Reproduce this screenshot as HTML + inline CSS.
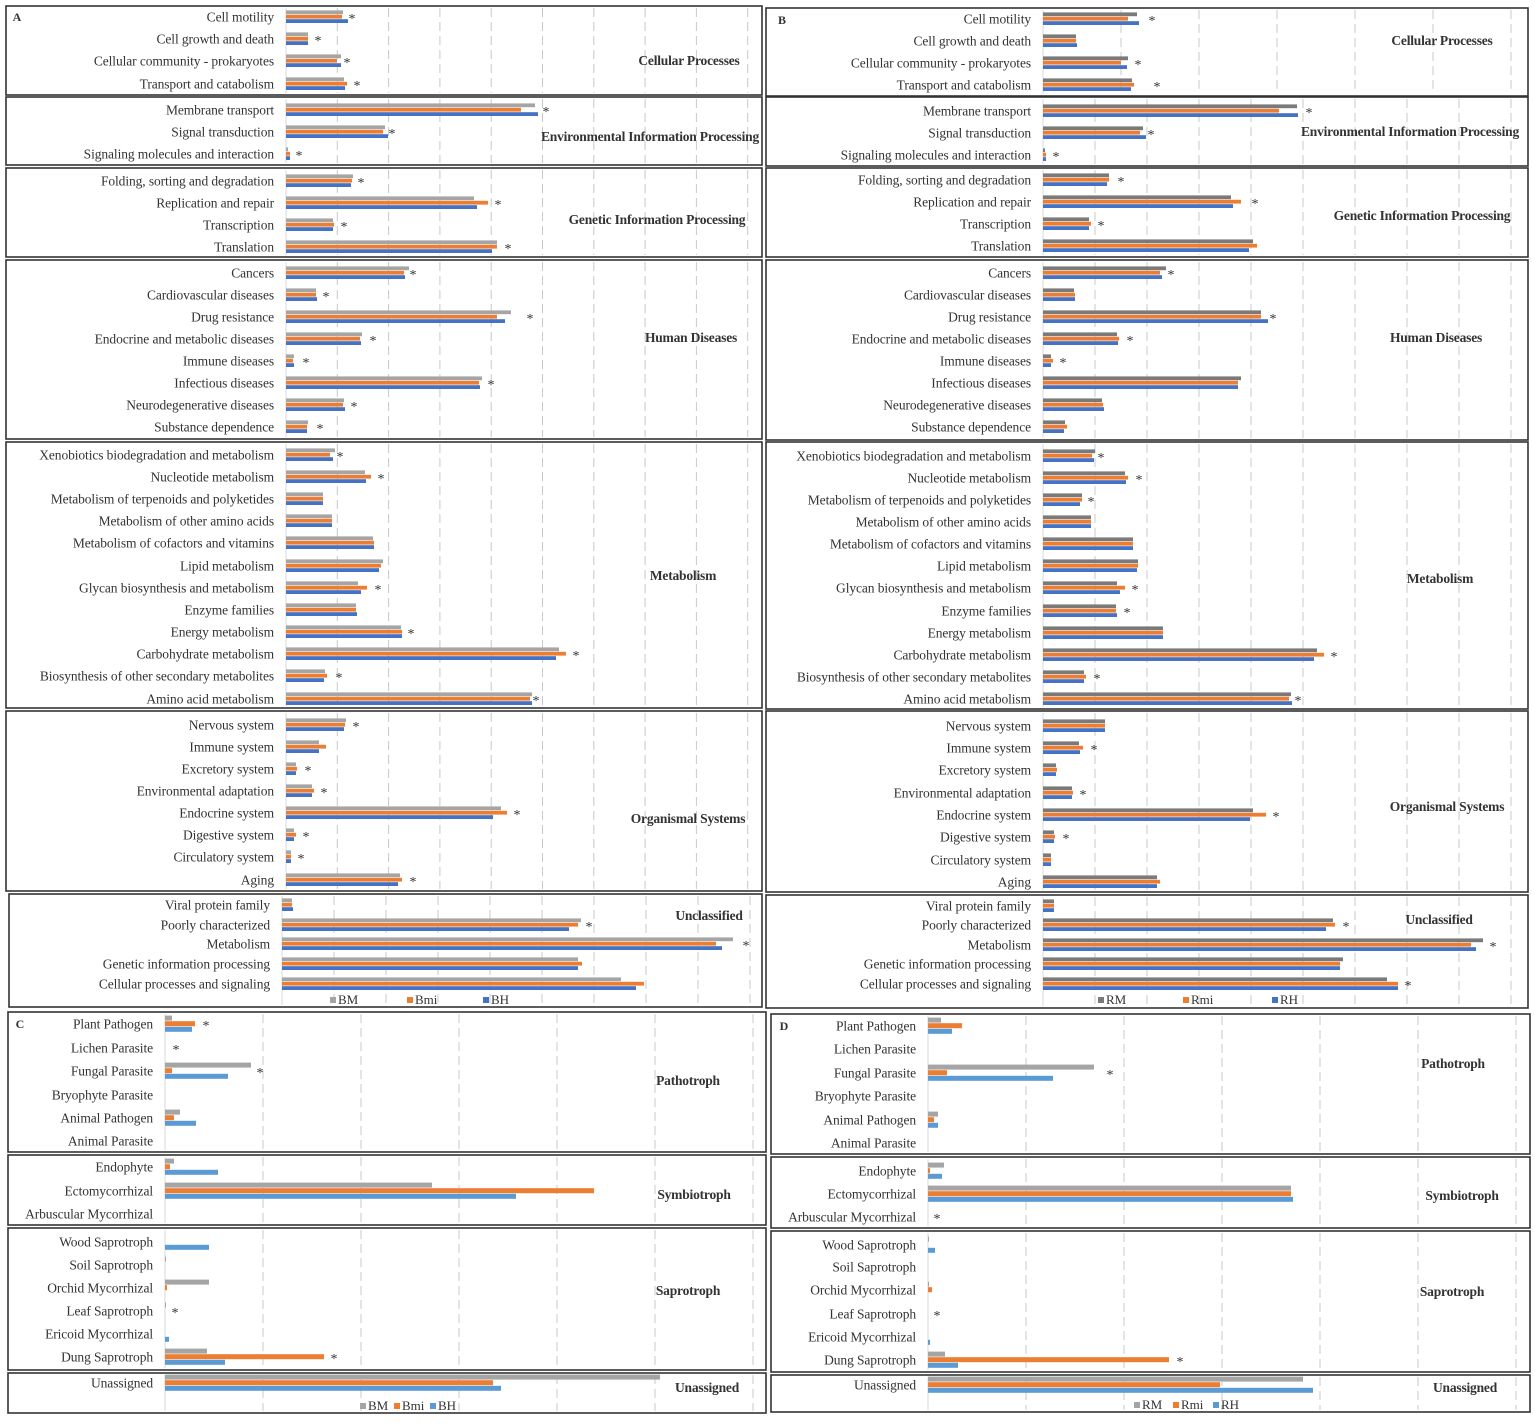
<!DOCTYPE html><html><head><meta charset="utf-8"><style>
body{margin:0;background:#fff;width:1535px;height:1420px;overflow:hidden}
svg text{font-family:"Liberation Serif",serif;fill:#333}
</style></head><body>
<svg id="s" width="1535" height="1420" xmlns="http://www.w3.org/2000/svg"></svg>
<script>
var S=document.getElementById('s'),h='';
function box(x1,y1,x2,y2){h+='<rect x="'+x1+'" y="'+y1+'" width="'+(x2-x1)+'" height="'+(y2-y1)+'" fill="none" stroke="#333" stroke-width="1.6"/>';}
function grid(ax,step,x2,y1,y2){h+='<line x1="'+ax+'" y1="'+y1+'" x2="'+ax+'" y2="'+y2+'" stroke="#d9d9d9"/>';for(var x=ax+step;x<x2-3;x+=step)h+='<line x1="'+x.toFixed(1)+'" y1="'+y1+'" x2="'+x.toFixed(1)+'" y2="'+y2+'" stroke="#c8c8c8" stroke-dasharray="9,5"/>';}
function t(x,y,s,anc,sz,b,ls){h+='<text x="'+x+'" y="'+y+'" font-size="'+(sz||13.5)+'" text-anchor="'+(anc||'end')+'"'+(b?' font-weight="bold"':'')+(ls?' letter-spacing="'+ls+'"':'')+'>'+s+'</text>';}
function rows(ax,lx,cols,bh,data){data.forEach(function(r){var y=r[1];var top=y-1.5*bh;t(lx,y+4.5,r[0],'end',13.5,false,-0.1);for(var i=0;i<3;i++){var v=r[2][i];if(v&&v>ax)h+='<rect x="'+ax+'" y="'+(top+i*bh).toFixed(1)+'" width="'+(v-ax)+'" height="'+(bh-0.6)+'" fill="'+cols[i]+'"/>';}if(r[3])t(r[3],y+6,'*','middle',14);});}
function panel(bx1,bx2,ax,step,lx,cols,bh,secs){secs.forEach(function(s){grid(ax,s[3]||step,bx2,s[0]+2,s[1]-2);box(bx1,s[0],bx2,s[1]);rows(ax,lx,cols,bh,s[2]);});}
var AB=['#a5a5a5','#ed7d31','#4472c4'],BB=['#7a7a7a','#ed7d31','#4472c4'],CD=['#a5a5a5','#ed7d31','#5b9bd5'];
panel(6,762,286,51.3,274,AB,4.4,[
[6,95,[['Cell motility',17,[343,342,348],352],['Cell growth and death',39,[308,308,308],318],['Cellular community - prokaryotes',61,[341,337,341],347],['Transport and catabolism',84,[344,347,345],357]]],
[97,165,[['Membrane transport',110,[535,521,538],546],['Signal transduction',132,[385,383,388],392],['Signaling molecules and interaction',154,[288,290,290],299]]],
[168,257,[['Folding, sorting and degradation',181,[353,352,351],361],['Replication and repair',203,[474,488,477],498],['Transcription',225,[333,334,333],344],['Translation',247,[497,497,492],508]]],
[260,439,[['Cancers',273,[409,404,405],413],['Cardiovascular diseases',295,[316,316,317],326],['Drug resistance',317,[511,497,505],530],['Endocrine and metabolic diseases',339,[362,360,361],373],['Immune diseases',361,[294,293,294],306],['Infectious diseases',383,[482,479,480],491],['Neurodegenerative diseases',405,[344,343,345],354],['Substance dependence',427,[308,307,307],320]]],
[442,708,[['Xenobiotics biodegradation and metabolism',455,[335,330,333],340],['Nucleotide metabolism',477,[365,371,366],381],['Metabolism of terpenoids and polyketides',499,[323,323,323]],['Metabolism of other amino acids',521,[332,332,332]],['Metabolism of cofactors and vitamins',543,[373,374,374]],['Lipid metabolism',566,[383,381,379]],['Glycan biosynthesis and metabolism',588,[358,367,361],378],['Enzyme families',610,[356,356,357]],['Energy metabolism',632,[401,402,402],411],['Carbohydrate metabolism',654,[559,566,556],576],['Biosynthesis of other secondary metabolites',676,[325,327,324],339],['Amino acid metabolism',699,[532,530,532],536]]],
[711,891,[['Nervous system',725,[346,345,344],356],['Immune system',747,[319,326,319]],['Excretory system',769,[296,297,296],308],['Environmental adaptation',791,[312,314,312],324],['Endocrine system',813,[501,507,493],517],['Digestive system',835,[294,296,294],306],['Circulatory system',857,[291,291,291],301],['Aging',880,[400,402,398],413]]]]);
panel(9,762,282,52,270,AB,4.4,[[894,1007,[['Viral protein family',905,[292,292,293]],['Poorly characterized',925,[581,578,569],589],['Metabolism',944,[733,716,722],746],['Genetic information processing',964,[578,582,578]],['Cellular processes and signaling',984,[621,644,636]]]]]);
panel(766,1528,1043,52,1031,BB,4.4,[
[8,96,[['Cell motility',19,[1137,1128,1139],1152],['Cell growth and death',41,[1076,1076,1077]],['Cellular community - prokaryotes',63,[1128,1121,1127],1138],['Transport and catabolism',85,[1132,1134,1131],1157]],78],
[97,166,[['Membrane transport',111,[1297,1279,1298],1309],['Signal transduction',133,[1143,1140,1146],1151],['Signaling molecules and interaction',155,[1045,1046,1046],1056]]],
[168,257,[['Folding, sorting and degradation',180,[1109,1109,1107],1121],['Replication and repair',202,[1231,1241,1233],1255],['Transcription',224,[1089,1091,1089],1101],['Translation',246,[1253,1257,1249]]]],
[260,440,[['Cancers',273,[1166,1160,1162],1171],['Cardiovascular diseases',295,[1074,1075,1075]],['Drug resistance',317,[1261,1261,1268],1273],['Endocrine and metabolic diseases',339,[1117,1119,1118],1130],['Immune diseases',361,[1051,1053,1051],1063],['Infectious diseases',383,[1241,1238,1238]],['Neurodegenerative diseases',405,[1102,1103,1104]],['Substance dependence',427,[1065,1067,1064]]]],
[442,709,[['Xenobiotics biodegradation and metabolism',456,[1095,1092,1094],1101],['Nucleotide metabolism',478,[1125,1128,1126],1139],['Metabolism of terpenoids and polyketides',500,[1082,1082,1080],1091],['Metabolism of other amino acids',522,[1091,1091,1091]],['Metabolism of cofactors and vitamins',544,[1133,1133,1133]],['Lipid metabolism',566,[1138,1138,1137]],['Glycan biosynthesis and metabolism',588,[1117,1125,1120],1135],['Enzyme families',611,[1116,1116,1117],1127],['Energy metabolism',633,[1163,1163,1163]],['Carbohydrate metabolism',655,[1317,1324,1314],1334],['Biosynthesis of other secondary metabolites',677,[1084,1086,1084],1097],['Amino acid metabolism',699,[1291,1289,1292],1298]]],
[711,892,[['Nervous system',726,[1105,1105,1105]],['Immune system',748,[1079,1083,1080],1094],['Excretory system',770,[1056,1057,1056]],['Environmental adaptation',793,[1072,1073,1072],1083],['Endocrine system',815,[1253,1266,1250],1276],['Digestive system',837,[1054,1055,1054],1066],['Circulatory system',860,[1051,1051,1051]],['Aging',882,[1157,1160,1157]]]],
[895,1008,[['Viral protein family',906,[1054,1054,1054]],['Poorly characterized',925,[1333,1335,1326],1346],['Metabolism',945,[1483,1471,1476],1493],['Genetic information processing',964,[1343,1340,1340]],['Cellular processes and signaling',984,[1387,1398,1398],1408]]]]);
panel(8,766,165,98,153,CD,5.6,[
[1012,1152,[['Plant Pathogen',1024,[172,195,192],206],['Lichen Parasite',1048,[0,0,0],176],['Fungal Parasite',1071,[251,172,228],260],['Bryophyte Parasite',1095,[0,0,0]],['Animal Pathogen',1118,[180,174,196]],['Animal Parasite',1141,[0,0,0]]]],
[1155,1225,[['Endophyte',1167,[174,170,218]],['Ectomycorrhizal',1191,[432,594,516]],['Arbuscular Mycorrhizal',1214,[0,0,0]]]],
[1228,1370,[['Wood Saprotroph',1242,[0,0,209]],['Soil Saprotroph',1265,[166,0,0]],['Orchid Mycorrhizal',1288,[209,167,0]],['Leaf Saprotroph',1311,[166,0,0],175],['Ericoid Mycorrhizal',1334,[0,0,169]],['Dung Saprotroph',1357,[207,324,225],334]]],
[1373,1413,[['Unassigned',1383,[660,493,501]]]]]);
panel(771,1530,928,98,916,CD,5.6,[
[1014,1154,[['Plant Pathogen',1026,[941,962,952]],['Lichen Parasite',1049,[0,0,0]],['Fungal Parasite',1073,[1094,947,1053],1110],['Bryophyte Parasite',1096,[0,0,0]],['Animal Pathogen',1120,[938,934,938]],['Animal Parasite',1143,[0,0,0]]]],
[1157,1228,[['Endophyte',1171,[944,930,942]],['Ectomycorrhizal',1194,[1291,1291,1293]],['Arbuscular Mycorrhizal',1217,[0,0,0],937]]],
[1231,1372,[['Wood Saprotroph',1245,[929,0,935]],['Soil Saprotroph',1267,[0,0,0]],['Orchid Mycorrhizal',1290,[929,932,0]],['Leaf Saprotroph',1314,[0,0,0],937],['Ericoid Mycorrhizal',1337,[0,0,930]],['Dung Saprotroph',1360,[945,1169,958],1180]]],
[1375,1412,[['Unassigned',1385,[1303,1220,1313]]]]]);
[['Cellular Processes',689,65],['Environmental Information Processing',650,141],['Genetic Information Processing',657,224],['Human Diseases',691,342],['Metabolism',683,580],['Organismal Systems',688,823],['Unclassified',709,920],
['Cellular Processes',1442,45],['Environmental Information Processing',1410,136],['Genetic Information Processing',1422,220],['Human Diseases',1436,342],['Metabolism',1440,583],['Organismal Systems',1447,811],['Unclassified',1439,924],
['Pathotroph',688,1085],['Symbiotroph',694,1199],['Saprotroph',688,1295],['Unassigned',707,1392],
['Pathotroph',1453,1068],['Symbiotroph',1462,1200],['Saprotroph',1452,1296],['Unassigned',1465,1392]].forEach(function(g){t(g[1],g[2],g[0],'middle',13.5,true,-0.2);});
t(17,21,'A','middle',12,true);t(782,24,'B','middle',12,true);t(20,1028,'C','middle',12,true);t(784,1030,'D','middle',12,true);
function leg(items,y){items.forEach(function(it){h+='<rect x="'+it[1]+'" y="'+(y-7)+'" width="6" height="6" fill="'+it[2]+'"/>';t(it[1]+8,y,it[0],'start',13);});}
leg([['BM',330,'#a5a5a5'],['Bmi',407,'#ed7d31'],['BH',483,'#4472c4']],1004);
leg([['RM',1098,'#7a7a7a'],['Rmi',1183,'#ed7d31'],['RH',1272,'#4472c4']],1004);
leg([['BM',360,'#a5a5a5'],['Bmi',394,'#ed7d31'],['BH',430,'#5b9bd5']],1410);
leg([['RM',1134,'#a5a5a5'],['Rmi',1173,'#ed7d31'],['RH',1213,'#5b9bd5']],1409);
S.innerHTML=h;
</script></body></html>
